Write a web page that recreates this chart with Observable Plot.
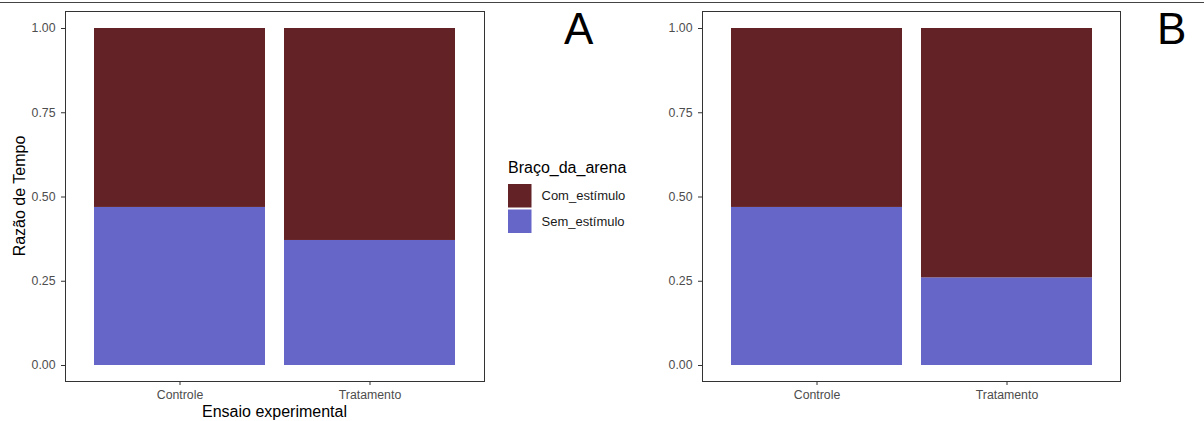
<!DOCTYPE html>
<html><head><meta charset="utf-8">
<script src="https://cdn.jsdelivr.net/npm/d3@7"></script>
<script src="https://cdn.jsdelivr.net/npm/@observablehq/plot@0.6"></script>
<style>
body{margin:0;background:#fff;font-family:"Liberation Sans",Arial,sans-serif;}
#root{position:relative;width:1204px;height:421px;overflow:hidden;background:#fff;}
#root > svg, #root > div{position:absolute;top:0;}
</style></head><body><div id="root"></div>
<script>
// ---- data ----
const categories = ["Controle", "Tratamento"];
const groups = ["Com_estímulo", "Sem_estímulo"];
const colors = ["#632326", "#6666C9"];
const semA = [0.469, 0.371];   // panel A: share of "Sem_estímulo"
const semB = [0.469, 0.260];   // panel B
const yTicks = [0, 0.25, 0.5, 0.75, 1];
const yTickLabels = ["0.00", "0.25", "0.50", "0.75", "1.00"];
const panelLabels = ["A", "B"];
const xTitle = "Ensaio experimental";
const yTitle = "Razão de Tempo";
const legendTitle = "Braço_da_arena";

const root = document.getElementById("root");

function rowsFor(sem) {
  const rows = [];
  categories.forEach((c, i) => rows.push({cat: c, group: groups[1], value: sem[i]}));
  categories.forEach((c, i) => rows.push({cat: c, group: groups[0], value: 1 - sem[i]}));
  return rows;
}

function panel(sem, left, width, marginLeft, marginRight) {
  const svg = Plot.plot({
    width, height: 421,
    marginLeft, marginRight, marginTop: 11, marginBottom: 40,
    style: {fontFamily: "'Liberation Sans', Arial, sans-serif", fontSize: "12.3px", color: "#4D4D4D", background: "transparent"},
    x: {domain: categories, paddingInner: 0.1, paddingOuter: 0.15, label: null},
    y: {domain: [0, 1], insetTop: 17, insetBottom: 16, label: null},
    color: {domain: groups, range: colors},
    marks: [
      Plot.barY(rowsFor(sem), {x: "cat", y: "value", fill: "group"}),
      Plot.frame({stroke: "#333", strokeWidth: 1}),
      Plot.axisY({ticks: yTicks, tickFormat: (d) => yTickLabels[yTicks.indexOf(d)], tickSize: 4, tickPadding: 6, stroke: "#333", fill: "#4D4D4D", label: null}),
      Plot.axisX({tickSize: 4, tickPadding: 5, stroke: "#333", fill: "#4D4D4D", label: null})
    ]
  });
  svg.style.left = left + "px";
  root.appendChild(svg);
}

panel(semA, 0, 490, 65, 6);
panel(semB, 640, 490, 62, 10);

// ---- annotations ----
const ov = d3.create("svg").attr("width", 1204).attr("height", 421)
  .style("left", "0px").style("font-family", "'Liberation Sans', Arial, sans-serif");
ov.append("rect").attr("x", 0).attr("y", 2).attr("width", 1204).attr("height", 1).attr("fill", "#444");
ov.append("text").attr("x", 564).attr("y", 44).attr("font-size", 44).attr("fill", "#000").text(panelLabels[0]);
ov.append("text").attr("x", 1157).attr("y", 44).attr("font-size", 44).attr("fill", "#000").text(panelLabels[1]);
ov.append("text").attr("x", 274.5).attr("y", 417).attr("text-anchor", "middle").attr("font-size", 16).attr("fill", "#000").text(xTitle);
ov.append("text").attr("transform", "translate(25,196) rotate(-90)").attr("text-anchor", "middle").attr("font-size", 16).attr("fill", "#000").text(yTitle);
// legend
ov.append("text").attr("x", 508).attr("y", 173.3).attr("font-size", 16).attr("fill", "#000").text(legendTitle);
groups.forEach((g, i) => {
  ov.append("rect").attr("x", 508).attr("y", 184 + i * 25.5).attr("width", 23.5).attr("height", 23.5).attr("fill", colors[i]);
  ov.append("text").attr("x", 541.5).attr("y", 200 + i * 26).attr("font-size", 13).attr("fill", "#1a1a1a").text(g);
});
root.appendChild(ov.node());
</script></body></html>
